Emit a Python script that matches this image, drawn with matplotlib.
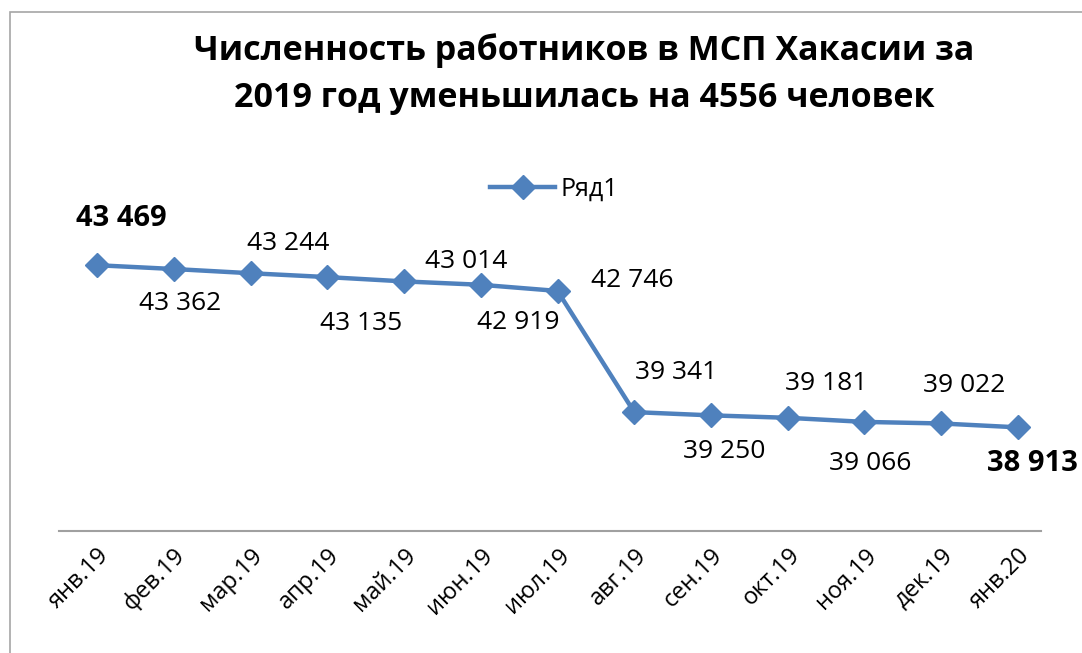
import matplotlib.pyplot as plt
from matplotlib.patches import Rectangle

plt.rcParams['font.family'] = ['Open Sans', 'DejaVu Sans']

months = ['янв.19', 'фев.19', 'мар.19', 'апр.19', 'май.19', 'июн.19', 'июл.19',
          'авг.19', 'сен.19', 'окт.19', 'ноя.19', 'дек.19', 'янв.20']
workers = [43469, 43362, 43244, 43135, 43014, 42919, 42746,
           39341, 39250, 39181, 39066, 39022, 38913]

# label offsets in pixels (dx, dy) and bold flags
label_offsets = [(24, 47), (6, -34), (38, 30), (34, -46), (62, 20), (37, -38), (75, 10),
                 (42, 40), (13, -36), (38, 34), (6, -42), (23, 38), (14, -36)]
label_bold = [True] + [False] * 11 + [True]

color = '#4F81BD'

fig = plt.figure(figsize=(10.82, 6.53), dpi=100)
ax = fig.add_axes([0.0542, 0.1868, 0.9221, 0.545])

x = list(range(len(months)))
ax.plot(x, workers, color=color, lw=3.2, marker='D', markersize=12, label='Ряд1')

for i, v in enumerate(workers):
    txt = f'{v:,}'.replace(',', ' ')
    dx, dy = label_offsets[i]
    if label_bold[i]:
        ax.annotate(txt, (i, v), xytext=(dx, dy), textcoords='offset pixels',
                    ha='center', va='center', fontsize=21, fontweight='bold')
    else:
        ax.annotate(txt, (i, v), xytext=(dx, dy), textcoords='offset pixels',
                    ha='center', va='center', fontsize=19)

ax.set_xlim(-0.5, 12.5)
ax.set_ylim(36000, 46000)
ax.set_xticks(x)
ax.set_xticklabels(months, rotation=45, ha='right', rotation_mode='anchor', fontsize=17)
ax.tick_params(axis='x', length=0, pad=9)
ax.set_yticks([])
for s in ['top', 'right', 'left']:
    ax.spines[s].set_visible(False)
ax.spines['bottom'].set_color('#A0A0A0')
ax.spines['bottom'].set_linewidth(1.5)
ax.spines['bottom'].set_bounds(-0.5, 12.3)

fig.legend(loc='center', bbox_to_anchor=(0.512, 0.71), frameon=False, fontsize=18,
           handlelength=2.6, handletextpad=0.2)

fig.text(0.54, 0.886, 'Численность работников в МСП Хакасии за\n2019 год уменьшилась на 4556 человек',
         ha='center', va='center', fontsize=24.5, fontweight='bold', linespacing=1.5)

fig.patches.append(Rectangle((0.009, -0.1), 1.2, 1.081, transform=fig.transFigure,
                             fill=False, edgecolor='#A6A6A6', lw=1.2))

fig.savefig('out.png', dpi=100)
